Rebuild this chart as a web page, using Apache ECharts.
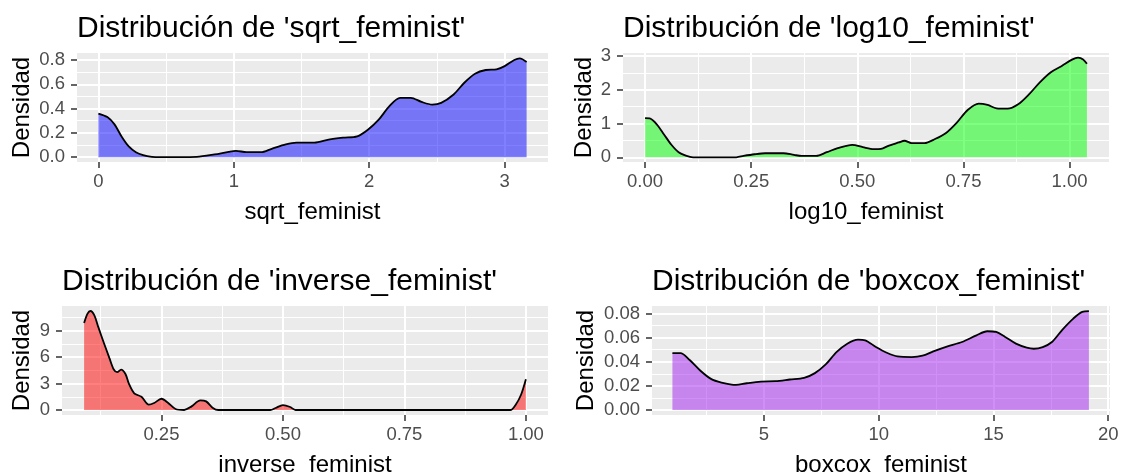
<!DOCTYPE html>
<html>
<head>
<meta charset="utf-8">
<script src="https://cdn.jsdelivr.net/npm/echarts@6/dist/echarts.min.js"></script>
<style>
  html, body { margin: 0; padding: 0; background: #ffffff; }
  #chart { width: 1126px; height: 475px; }
</style>
</head>
<body>
<div id="chart"></div>
<script>
// Kernel density estimates of four transformations of 'feminist'

// sqrt_feminist
const sqrtX = [0, 0.066, 0.119, 0.171, 0.224, 0.277, 0.33, 0.395, 0.46, 0.6, 0.725, 0.857, 0.962, 1.015, 1.094, 1.2, 1.28, 1.384, 1.463, 1.595, 1.7, 1.806, 1.911, 1.99, 2.07, 2.149, 2.228, 2.307, 2.386, 2.465, 2.531, 2.623, 2.702, 2.781, 2.86, 2.94, 3.0, 3.071, 3.111, 3.162];
const sqrtY = [0.359, 0.33, 0.27, 0.17, 0.088, 0.041, 0.017, 0.003, 0, 0, 0.002, 0.022, 0.044, 0.052, 0.041, 0.041, 0.069, 0.105, 0.119, 0.119, 0.144, 0.16, 0.171, 0.226, 0.309, 0.42, 0.489, 0.489, 0.455, 0.433, 0.447, 0.516, 0.613, 0.687, 0.718, 0.723, 0.75, 0.8, 0.814, 0.784];
const sqrtXTicks = ['0', '1', '2', '3'];
const sqrtYTicks = ['0.0', '0.2', '0.4', '0.6', '0.8'];

// log10_feminist
const logX = [0, 0.011, 0.028, 0.045, 0.062, 0.079, 0.096, 0.113, 0.215, 0.232, 0.258, 0.283, 0.326, 0.351, 0.369, 0.403, 0.428, 0.454, 0.488, 0.513, 0.539, 0.556, 0.573, 0.598, 0.611, 0.628, 0.658, 0.683, 0.709, 0.734, 0.76, 0.786, 0.807, 0.828, 0.854, 0.879, 0.905, 0.93, 0.956, 0.981, 1.007, 1.02, 1.032, 1.041];
const logY = [1.16, 1.15, 0.97, 0.67, 0.37, 0.15, 0.05, 0, 0, 0.04, 0.09, 0.12, 0.12, 0.07, 0.04, 0.04, 0.15, 0.27, 0.37, 0.3, 0.24, 0.25, 0.34, 0.44, 0.49, 0.42, 0.42, 0.54, 0.72, 1.02, 1.40, 1.59, 1.55, 1.45, 1.44, 1.57, 1.87, 2.22, 2.52, 2.70, 2.90, 2.95, 2.90, 2.77];
const logXTicks = ['0.00', '0.25', '0.50', '0.75', '1.00'];
const logYTicks = ['0', '1', '2', '3'];

// inverse_feminist
const invX = [0.0909, 0.098, 0.104, 0.112, 0.12, 0.132, 0.143, 0.152, 0.159, 0.167, 0.176, 0.183, 0.194, 0.209, 0.224, 0.235, 0.25, 0.264, 0.279, 0.297, 0.312, 0.33, 0.342, 0.356, 0.367, 0.474, 0.485, 0.5, 0.515, 0.526, 0.968, 0.979, 0.99, 1.0];
const invY = [9.9, 10.96, 11.26, 10.77, 9.45, 7.57, 5.9, 4.6, 4.3, 4.6, 4.1, 3.0, 1.9, 1.5, 0.6, 0.79, 1.28, 0.79, 0.11, 0, 0.41, 1.09, 0.98, 0.23, 0, 0, 0.23, 0.56, 0.34, 0, 0, 0.6, 1.73, 3.5];
const invXTicks = ['0.25', '0.50', '0.75', '1.00'];
const invYTicks = ['0', '3', '6', '9'];

// boxcox_feminist
const boxX = [1.01, 1.36, 1.75, 2.22, 2.69, 3.15, 3.78, 4.25, 4.87, 5.5, 6.13, 6.75, 7.22, 7.69, 8.16, 8.63, 9.1, 9.41, 9.88, 10.35, 10.82, 11.44, 11.91, 12.38, 13.0, 13.63, 14.26, 14.73, 15.12, 15.51, 15.98, 16.45, 16.76, 17.15, 17.55, 18.01, 18.48, 18.87, 19.16];
const boxY = [0.0472, 0.0472, 0.0417, 0.0328, 0.0258, 0.0228, 0.0208, 0.0222, 0.0236, 0.0239, 0.0253, 0.0267, 0.0306, 0.0378, 0.048, 0.055, 0.0583, 0.0578, 0.0522, 0.0475, 0.0444, 0.0439, 0.045, 0.0486, 0.0528, 0.0564, 0.0619, 0.0653, 0.0647, 0.0606, 0.055, 0.0517, 0.0508, 0.0522, 0.0564, 0.0667, 0.0758, 0.0814, 0.082];
const boxXTicks = ['5', '10', '15', '20'];
const boxYTicks = ['0.00', '0.02', '0.04', '0.06', '0.08'];

const FONT = "'Liberation Sans', Arial, sans-serif";
const PANEL_BG = '#EBEBEB';

const panels = [
  {
    title: "Distribución de 'sqrt_feminist'", xName: 'sqrt_feminist',
    xs: sqrtX, ys: sqrtY, xTicks: sqrtXTicks, yTicks: sqrtYTicks,
    xStep: 1, yStep: 0.2, xRange: [-0.158, 3.32], yRange: [-0.04, 0.858],
    fill: 'rgba(0,0,255,0.5)',
    box: { left: 77, top: 53, width: 471, height: 109 }, yGap: 43
  },
  {
    title: "Distribución de 'log10_feminist'", xName: 'log10_feminist',
    xs: logX, ys: logY, xTicks: logXTicks, yTicks: logYTicks,
    xStep: 0.25, yStep: 1, xRange: [-0.052, 1.093], yRange: [-0.14, 3.09],
    fill: 'rgba(0,255,0,0.5)',
    box: { left: 623, top: 53, width: 486, height: 109 }, yGap: 27
  },
  {
    title: "Distribución de 'inverse_feminist'", xName: 'inverse_feminist',
    xs: invX, ys: invY, xTicks: invXTicks, yTicks: invYTicks,
    xStep: 0.25, yStep: 3, xRange: [0.0454, 1.0455], yRange: [-0.57, 11.83],
    fill: 'rgba(255,0,0,0.5)',
    box: { left: 62, top: 306, width: 486, height: 109 }, yGap: 28
  },
  {
    title: "Distribución de 'boxcox_feminist'", xName: 'boxcox_feminist',
    xs: boxX, ys: boxY, xTicks: boxXTicks, yTicks: boxYTicks,
    xStep: 5, yStep: 0.02, xRange: [0.12, 20.08], yRange: [-0.0041, 0.0862],
    fill: 'rgba(160,32,240,0.5)',
    box: { left: 652, top: 306, width: 458, height: 109 }, yGap: 54
  }
];

function tickFormatter(labels) {
  const vals = labels.map(Number);
  return function (v) {
    const i = vals.findIndex(t => Math.abs(t - v) < 1e-9);
    return i >= 0 ? labels[i] : '';
  };
}

function axisDef(idx, labels, step, range, isX, p) {
  const vals = labels.map(Number);
  const def = {
    type: 'value',
    gridIndex: idx,
    position: isX ? 'bottom' : 'left',
    min: range[0],
    max: range[1],
    minInterval: step,
    maxInterval: step,
    axisLine: { show: false, onZero: false },
    axisTick: { show: true, length: 6, customValues: vals, lineStyle: { color: '#333333', width: 1.5 } },
    axisLabel: {
      customValues: vals,
      formatter: tickFormatter(labels),
      fontSize: 18.5, color: '#4D4D4D', fontFamily: FONT,
      margin: isX ? 10 : 12
    },
    splitLine: { show: true, lineStyle: { color: '#FFFFFF', width: 2 } },
    minorTick: { show: false, splitNumber: 2 },
    minorSplitLine: { show: true, lineStyle: { color: '#FFFFFF', width: 1 } },
    nameLocation: 'middle',
    nameTextStyle: { fontSize: 24, color: '#000000', fontFamily: FONT }
  };
  if (isX) {
    def.name = p.xName;
    def.nameGap = 38;
  } else {
    def.name = 'Densidad';
    def.nameGap = p.yGap;
  }
  return def;
}

const option = {
  backgroundColor: '#FFFFFF',
  animation: false,
  title: panels.map(p => ({
    text: p.title,
    left: p.box.left,
    top: p.box.top - 39,
    padding: 0,
    textStyle: { fontSize: 30, fontWeight: 'normal', color: '#000000', fontFamily: FONT }
  })),
  grid: panels.map(p => ({
    left: p.box.left, top: p.box.top, width: p.box.width, height: p.box.height,
    show: true, backgroundColor: PANEL_BG, borderWidth: 0,
    containLabel: false, outerBoundsMode: 'none'
  })),
  xAxis: panels.map((p, i) => axisDef(i, p.xTicks, p.xStep, p.xRange, true, p)),
  yAxis: panels.map((p, i) => axisDef(i, p.yTicks, p.yStep, p.yRange, false, p)),
  series: panels.map((p, i) => ({
    type: 'line',
    xAxisIndex: i,
    yAxisIndex: i,
    data: p.xs.map((x, k) => [x, p.ys[k]]),
    symbol: 'none',
    smooth: 0.3,
    silent: true,
    lineStyle: { color: '#000000', width: 1.8 },
    areaStyle: { color: p.fill, opacity: 1 }
  }))
};

const chart = echarts.init(document.getElementById('chart'), null, { renderer: 'canvas' });
chart.setOption(option);
</script>
</body>
</html>
